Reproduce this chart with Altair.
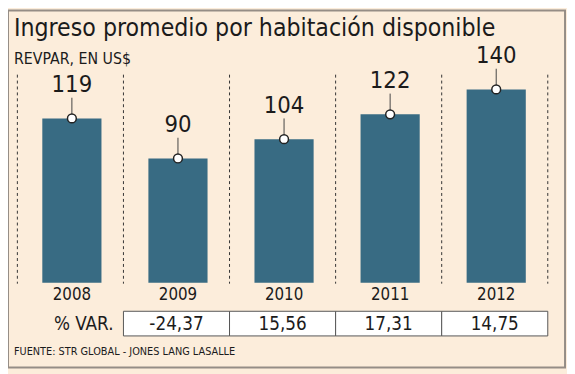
import altair as alt
import pandas as pd

years = ["2008", "2009", "2010", "2011", "2012"]
revpar = [119, 90, 104, 122, 140]
pct_years = ["2009", "2010", "2011", "2012"]
pct_var = ["-24,37", "15,56", "17,31", "14,75"]
title_text = "Ingreso promedio por habitación disponible"
subtitle_text = "REVPAR, EN US$"
var_label = "% VAR."
source_text = "FUENTE: STR GLOBAL - JONES LANG LASALLE"

FONT = "DejaVu Sans Condensed"
BG = "#FCEDDB"
BAR = "#386B83"
INK = "#1b1b1b"

df = pd.DataFrame({"year": years, "v": revpar})
df["top"] = df["v"] + 15
dpct = pd.DataFrame({"year": pct_years, "p": pct_var})
sep = pd.DataFrame({"year": years})
sep_end = pd.DataFrame({"year": [years[-1]]})

xs = alt.Scale(domain=years, range=[9.5, 547.5], paddingInner=0, paddingOuter=0)
ys = alt.Scale(domain=[0, 150], range=[276, 66], nice=False, zero=True)
X = alt.X("year:N", scale=xs, axis=None)
Y = alt.Y("v:Q", scale=ys, axis=None)

base = alt.Chart(df)

bars = base.mark_bar(size=60, color=BAR, xOffset=1.5).encode(x=X, y=Y, y2=alt.datum(0))
conn = base.mark_rule(color="#444", strokeWidth=1, xOffset=1.5).encode(
    x=X, y=Y, y2="top:Q")
dots = base.mark_point(filled=True, fill="white", stroke="#222", strokeWidth=1.5,
                       size=80, opacity=1, xOffset=1.5).encode(x=X, y=Y)
vals = base.mark_text(font=FONT, fontSize=24, color=INK, dy=-34, dx=1.5,
                      baseline="middle").encode(x=X, y=Y, text="v:Q")

seps = alt.Chart(sep).mark_rule(color="#333", strokeDash=[3, 3], strokeWidth=1).encode(
    x=alt.X("year:N", scale=xs, axis=None, bandPosition=0),
    y=alt.value(65), y2=alt.value(277))
seps_end = alt.Chart(sep_end).mark_rule(color="#333", strokeDash=[3, 3], strokeWidth=1).encode(
    x=alt.X("year:N", scale=xs, axis=None, bandPosition=1),
    y=alt.value(65), y2=alt.value(277))

yr = alt.Chart(sep).mark_text(font=FONT, fontSize=17, color=INK, baseline="middle", dx=1.5).encode(
    x=X, y=alt.value(289), text="year:N")

cells = alt.Chart(dpct).mark_rect(fill="white", stroke="#555", strokeWidth=1).encode(
    x=X, y=alt.value(305), y2=alt.value(330))
ptxt = alt.Chart(dpct).mark_text(font=FONT, fontSize=19, color=INK, baseline="middle").encode(
    x=X, y=alt.value(318), text="p:N")

lab = pd.DataFrame({"t": [var_label]})
varl = alt.Chart(lab).mark_text(font=FONT, fontSize=19, color=INK, align="right",
                                baseline="middle").encode(
    x=alt.value(107), y=alt.value(318), text="t:N")

ttl = alt.Chart(pd.DataFrame({"t": [title_text]})).mark_text(
    font=FONT, fontSize=25, color=INK, align="left", baseline="alphabetic").encode(
    x=alt.value(6), y=alt.value(26), text="t:N")
sub = alt.Chart(pd.DataFrame({"t": [subtitle_text]})).mark_text(
    font=FONT, fontSize=16, color=INK, align="left", baseline="alphabetic").encode(
    x=alt.value(6), y=alt.value(54), text="t:N")
src = alt.Chart(pd.DataFrame({"t": [source_text]})).mark_text(
    font=FONT, fontSize=11, color=INK, align="left", baseline="middle").encode(
    x=alt.value(6), y=alt.value(346), text="t:N")

chart = alt.layer(
    seps, seps_end, bars, conn, dots, vals, yr, cells, ptxt, varl, ttl, sub, src
).properties(
    width=565, height=362,
    padding={"left": 0, "top": 0, "right": 2, "bottom": 4},
    autosize=alt.AutoSizeParams(type="none"),
    background=BG,
).configure_view(fill=BG, stroke="#958d86", strokeWidth=2)

chart.save("out.html", embed_options={"renderer": "svg", "actions": False})
